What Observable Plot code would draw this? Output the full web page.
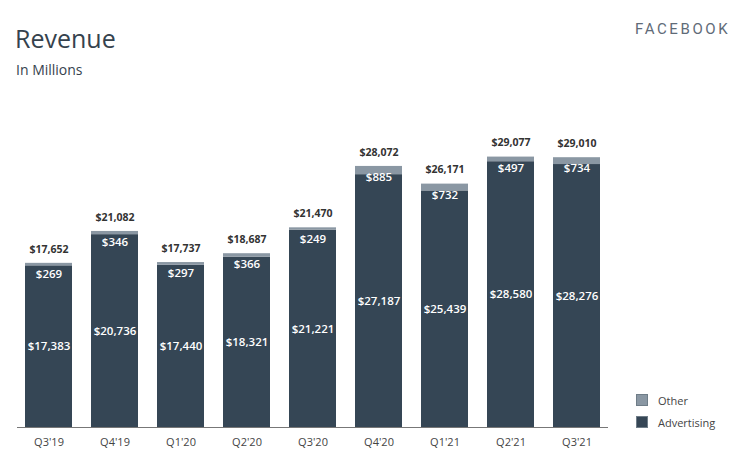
<!DOCTYPE html>
<html>
<head>
<meta charset="utf-8">
<script src="https://cdn.jsdelivr.net/npm/d3@7"></script>
<script src="https://cdn.jsdelivr.net/npm/@observablehq/plot@0.6"></script>
<style>
  html, body { margin: 0; padding: 0; background: #fff; }
  #wrap { position: relative; width: 740px; height: 457px; font-family: "Open Sans", sans-serif; }
  #title { position: absolute; left: 15px; top: 21px; font-size: 25px; color: #35424d; }
  #subtitle { position: absolute; left: 16px; top: 60px; font-size: 14px; color: #35424d; }
  #brand { position: absolute; left: 635px; top: 20px; font-size: 15px; letter-spacing: 2.6px; color: #5f6b78; font-family: "Roboto", sans-serif; }
  #legend { position: absolute; left: 636px; top: 389px; font-size: 11px; color: #444; }
  .li { display: flex; align-items: center; height: 22px; }
  .sw { width: 10px; height: 10px; margin-right: 10px; border: 1px solid #6f7d88; }
  #chart { position: absolute; left: 0; top: 0; }
</style>
</head>
<body>
<div id="wrap">
  <div id="chart"></div>
  <div id="title">Revenue</div>
  <div id="subtitle">In Millions</div>
  <div id="brand">FACEBOOK</div>
  <div id="legend"></div>
</div>
<script>
const quarters = ["Q3'19","Q4'19","Q1'20","Q2'20","Q3'20","Q4'20","Q1'21","Q2'21","Q3'21"];
const advertising = [17383, 20736, 17440, 18321, 21221, 27187, 25439, 28580, 28276];
const other = [269, 346, 297, 366, 249, 885, 732, 497, 734];
const totals = [17652, 21082, 17737, 18687, 21470, 28072, 26171, 29077, 29010];
const seriesNames = ["Other", "Advertising"];
const seriesColors = ["#8a97a3", "#354655"];

const rows = [];
quarters.forEach((q, i) => {
  rows.push({quarter: q, series: "Advertising", value: advertising[i]});
  rows.push({quarter: q, series: "Other", value: other[i]});
});
const totalRows = quarters.map((q, i) => ({quarter: q, total: totals[i], other: other[i], adv: advertising[i]}));
const fmt = v => "$" + d3.format(",")(v);

const chart = Plot.plot({
  width: 740,
  height: 457,
  marginLeft: 17,
  marginRight: 132,
  marginTop: 148,
  marginBottom: 30,
  style: {fontFamily: "Open Sans, sans-serif", background: "transparent"},
  x: {domain: quarters, paddingInner: 0.29, paddingOuter: 0.12, label: null},
  y: {domain: [0, 30000], axis: null},
  color: {domain: seriesNames, range: seriesColors},
  marks: [
    Plot.barY(rows, {x: "quarter", y: "value", fill: "series", order: ["Advertising", "Other"]}),
    Plot.ruleY([0], {stroke: "#777", strokeWidth: 1}),
    Plot.axisX({tickSize: 0, tickPadding: 11, fontSize: 11, fill: "#444", label: null}),
    Plot.text(totalRows, {x: "quarter", y: "total", text: d => fmt(d.total), dy: -14, fontSize: 10.5, fontWeight: "bold", fill: "#333"}),
    Plot.text(totalRows, {x: "quarter", y: "total", text: d => fmt(d.other), dy: 11, fontSize: 11.5, fontWeight: 600, fill: "#fff"}),
    Plot.text(totalRows, {x: "quarter", y: d => d.adv / 2, text: d => fmt(d.adv), fontSize: 11.5, fontWeight: 600, fill: "#fff"})
  ]
});
document.getElementById("chart").appendChild(chart);

const legend = document.getElementById("legend");
seriesNames.forEach((n, i) => {
  const li = document.createElement("div");
  li.className = "li";
  li.innerHTML = `<div class="sw" style="background:${seriesColors[i]}"></div><span>${n}</span>`;
  legend.appendChild(li);
});
</script>
</body>
</html>
